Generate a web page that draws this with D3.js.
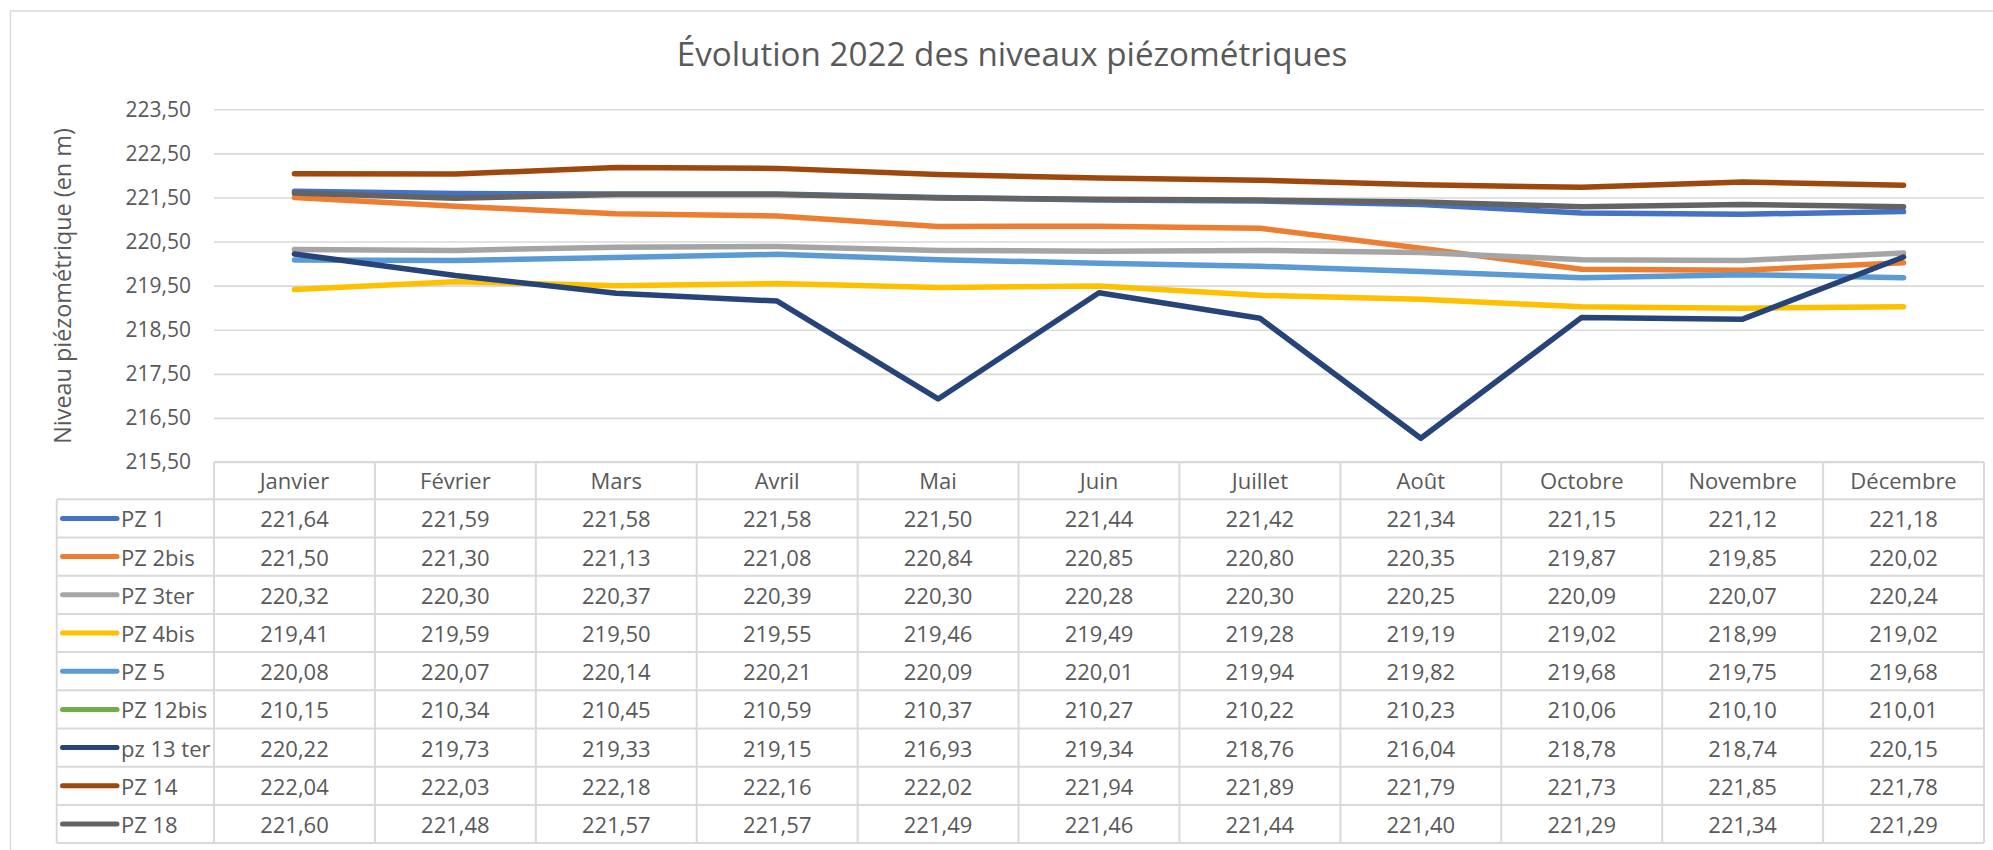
<!DOCTYPE html>
<html>
<head>
<meta charset="utf-8">
<script src="https://cdn.jsdelivr.net/npm/d3@7"></script>
<style>
  html, body { margin: 0; padding: 0; background: #ffffff; }
  svg { display: block; }
  text { font-family: "Open Sans", "Noto Sans", sans-serif; fill: #595959; }
</style>
</head>
<body>
<svg id="chart" width="1993" height="850"></svg>
<script>
// ---- data ----
const months = ["Janvier","Février","Mars","Avril","Mai","Juin","Juillet","Août","Octobre","Novembre","Décembre"];
const seriesNames = ["PZ 1","PZ 2bis","PZ 3ter","PZ 4bis","PZ 5","PZ 12bis","pz 13 ter","PZ 14","PZ 18"];
const pz1     = [221.64,221.59,221.58,221.58,221.50,221.44,221.42,221.34,221.15,221.12,221.18];
const pz2bis  = [221.50,221.30,221.13,221.08,220.84,220.85,220.80,220.35,219.87,219.85,220.02];
const pz3ter  = [220.32,220.30,220.37,220.39,220.30,220.28,220.30,220.25,220.09,220.07,220.24];
const pz4bis  = [219.41,219.59,219.50,219.55,219.46,219.49,219.28,219.19,219.02,218.99,219.02];
const pz5     = [220.08,220.07,220.14,220.21,220.09,220.01,219.94,219.82,219.68,219.75,219.68];
const pz12bis = [210.15,210.34,210.45,210.59,210.37,210.27,210.22,210.23,210.06,210.10,210.01];
const pz13ter = [220.22,219.73,219.33,219.15,216.93,219.34,218.76,216.04,218.78,218.74,220.15];
const pz14    = [222.04,222.03,222.18,222.16,222.02,221.94,221.89,221.79,221.73,221.85,221.78];
const pz18    = [221.60,221.48,221.57,221.57,221.49,221.46,221.44,221.40,221.29,221.34,221.29];
const seriesValues = [pz1,pz2bis,pz3ter,pz4bis,pz5,pz12bis,pz13ter,pz14,pz18];
const yTicks = [215.5,216.5,217.5,218.5,219.5,220.5,221.5,222.5,223.5];
const yDomain = [215.5, 223.5];
const title = "Évolution 2022 des niveaux piézométriques";
const yTitle = "Niveau piézométrique (en m)";

// ---- styles ----
const colors = ["#4472C4","#ED7D31","#A5A5A5","#FFC000","#5B9BD5","#70AD47","#264478","#9E480E","#636363"];
const gridColor = "#d9d9d9";
const L = 214, R = 1984, T = 109.3, B = 462;
const headerH = 37.3, rowH = 38.2, legendLeft = 56.7;

const fr = d3.formatLocale({decimal: ",", thousands: " ", grouping: [3], currency: ["", " €"]});
const fmt = fr.format(".2f");

const svg = d3.select("#chart");

// outer frame
svg.append("rect").attr("x", 10.5).attr("y", 11).attr("width", 2100).attr("height", 900)
  .attr("fill", "none").attr("stroke", gridColor).attr("stroke-width", 1.5);

// title
svg.append("text").attr("x", 1012).attr("y", 66).attr("text-anchor", "middle")
  .style("font-size", "33.2px").text(title);

const x = d3.scaleBand().domain(months).range([L, R]).paddingInner(0).paddingOuter(0);
const y = d3.scaleLinear().domain(yDomain).range([B, T]);

// y axis with gridlines
const yAxis = d3.axisLeft(y).tickValues(yTicks).tickFormat(fmt).tickSize(-(R - L)).tickPadding(23);
const gy = svg.append("g").attr("transform", `translate(${L},0)`).call(yAxis);
gy.select(".domain").remove();
gy.selectAll(".tick line").attr("stroke", gridColor).attr("stroke-width", 1.6);
gy.selectAll(".tick text").style("font-size", "21px").attr("fill", "#595959")
  .style("font-family", "'Open Sans', sans-serif");

// y title
svg.append("text").attr("transform", `translate(71,286) rotate(-90)`).attr("text-anchor", "middle")
  .style("font-size", "23.4px").text(yTitle);

// clip path for lines
svg.append("clipPath").attr("id", "plotclip").append("rect")
  .attr("x", L).attr("y", T - 10).attr("width", R - L).attr("height", B - T + 10);

const line = d3.line().x((d, i) => x(months[i]) + x.bandwidth() / 2).y(d => y(d));
const lg = svg.append("g").attr("clip-path", "url(#plotclip)");
seriesValues.forEach((vals, k) => {
  lg.append("path").datum(vals).attr("d", line).attr("fill", "none")
    .attr("stroke", colors[k]).attr("stroke-width", 5.5)
    .attr("stroke-linejoin", "round").attr("stroke-linecap", "round");
});

// ---- data table ----
const tg = svg.append("g");
const tableTop = B, rowsTop = B + headerH, tableBottom = rowsTop + rowH * seriesNames.length;
const stroke = (sel) => sel.attr("stroke", gridColor).attr("stroke-width", 2).attr("fill", "none");

tg.append("line").attr("x1", L).attr("x2", R).attr("y1", tableTop).attr("y2", tableTop).call(stroke);
d3.range(seriesNames.length + 1).forEach(i => {
  const yy = rowsTop + i * rowH;
  tg.append("line").attr("x1", legendLeft).attr("x2", R).attr("y1", yy).attr("y2", yy).call(stroke);
});
months.forEach(m => {
  tg.append("line").attr("x1", x(m)).attr("x2", x(m)).attr("y1", tableTop).attr("y2", tableBottom).call(stroke);
});
tg.append("line").attr("x1", R).attr("x2", R).attr("y1", tableTop).attr("y2", tableBottom).call(stroke);
tg.append("line").attr("x1", legendLeft).attr("x2", legendLeft).attr("y1", rowsTop).attr("y2", tableBottom).call(stroke);

// header labels
months.forEach(m => {
  tg.append("text").attr("x", x(m) + x.bandwidth() / 2).attr("y", tableTop + headerH / 2 - 1)
    .attr("text-anchor", "middle").attr("dominant-baseline", "central")
    .style("font-size", "22px").text(m);
});

// rows
seriesNames.forEach((name, k) => {
  const cy = rowsTop + k * rowH + rowH / 2;
  tg.append("line").attr("x1", 62.5).attr("x2", 117).attr("y1", cy).attr("y2", cy)
    .attr("stroke", colors[k]).attr("stroke-width", 5).attr("stroke-linecap", "round");
  tg.append("text").attr("x", 121).attr("y", cy).attr("dominant-baseline", "central")
    .style("font-size", "22px").text(name);
  seriesValues[k].forEach((v, i) => {
    tg.append("text").attr("x", x(months[i]) + x.bandwidth() / 2).attr("y", cy)
      .attr("text-anchor", "middle").attr("dominant-baseline", "central")
      .style("font-size", "22px").text(fmt(v));
  });
});
</script>
</body>
</html>
